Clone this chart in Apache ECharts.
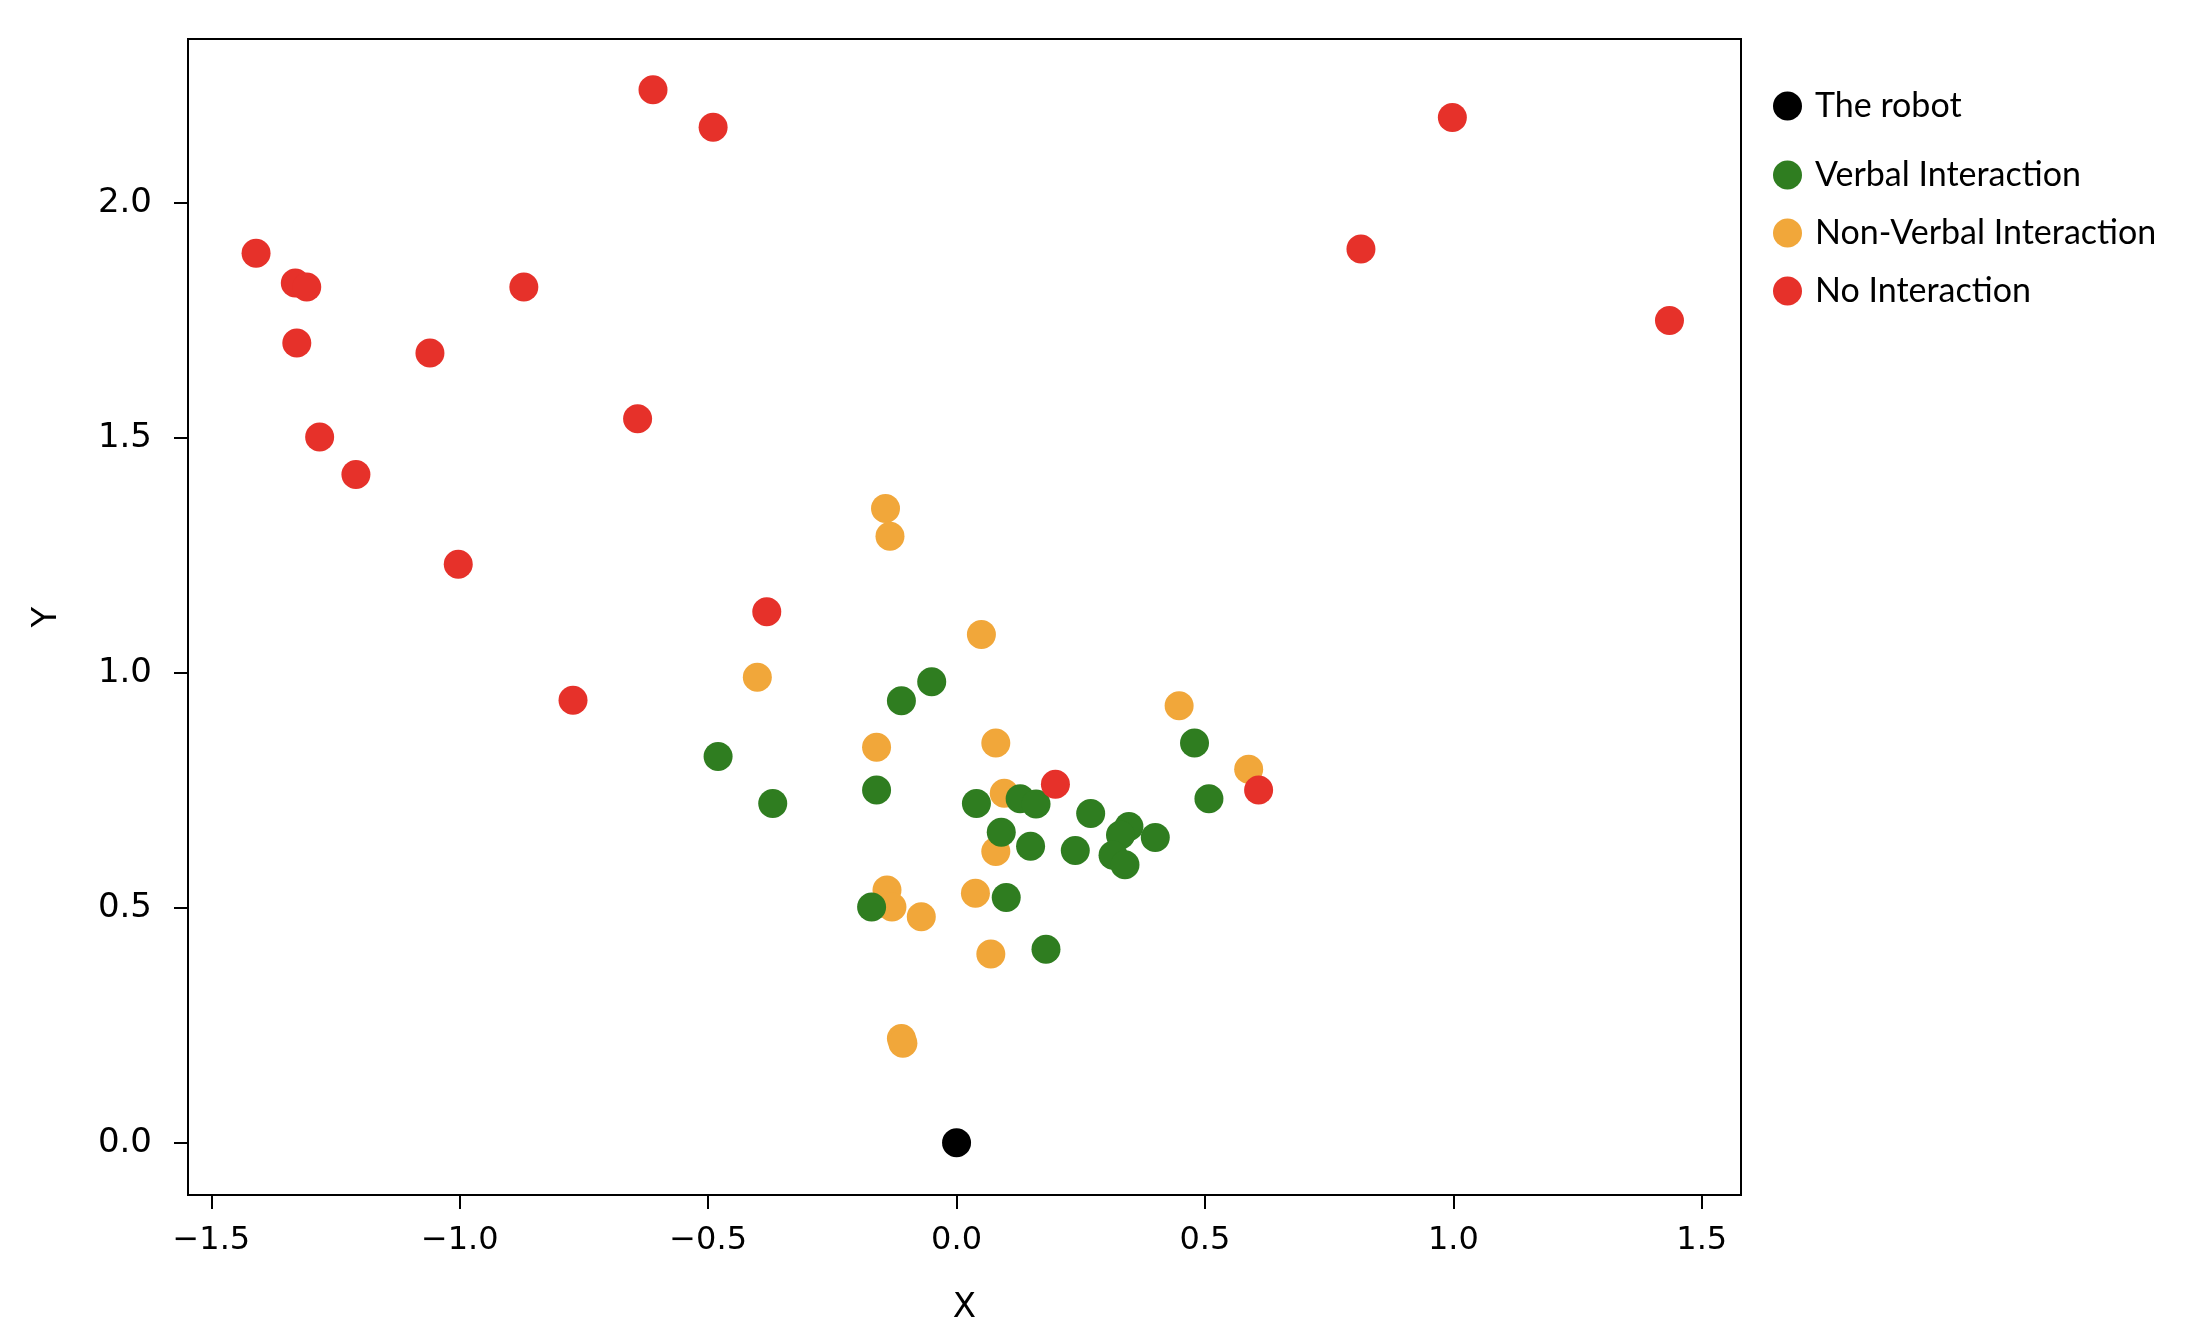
<!DOCTYPE html>
<html>
<head>
<meta charset="utf-8">
<script src="https://cdn.jsdelivr.net/npm/echarts@6/dist/echarts.min.js"></script>
<style>
  html, body { margin: 0; padding: 0; background: #fff; }
  #main { width: 2196px; height: 1340px; }
</style>
</head>
<body>
<div id="main"></div>
<script>
// legend names
var names = ['The robot', 'Verbal Interaction', 'Non-Verbal Interaction', 'No Interaction'];
var colors = ['#000000', '#2f7d20', '#f1a73a', '#e6312a'];

var xTicks = [-1.5, -1.0, -0.5, 0.0, 0.5, 1.0, 1.5];
var yTicks = [0.0, 0.5, 1.0, 1.5, 2.0];

// points [x, y]
var robot = [[0.0, 0.0]];

var verbal = [
  [-0.050, 0.981], [-0.111, 0.941], [0.479, 0.851], [-0.480, 0.822], [-0.161, 0.751],
  [0.508, 0.732], [-0.370, 0.722], [0.040, 0.722], [0.128, 0.732], [0.160, 0.721],
  [0.270, 0.701], [0.347, 0.673], [0.330, 0.655], [0.400, 0.650], [0.090, 0.661],
  [0.149, 0.631], [0.239, 0.622], [0.315, 0.612], [0.339, 0.592], [-0.171, 0.502],
  [0.100, 0.522], [0.180, 0.412]
];

var nonVerbal = [
  [-0.143, 1.350], [-0.134, 1.291], [0.050, 1.082], [-0.401, 0.991], [0.448, 0.930],
  [0.079, 0.851], [-0.161, 0.842], [0.588, 0.795], [0.096, 0.744], [0.079, 0.620],
  [-0.140, 0.538], [-0.130, 0.502], [-0.071, 0.481], [0.038, 0.531], [0.069, 0.402],
  [-0.111, 0.222], [-0.108, 0.212]
];

var noInteraction = [
  [-0.611, 2.241], [-0.490, 2.161], [0.998, 2.182], [-1.410, 1.893], [-1.331, 1.830],
  [-1.308, 1.821], [-0.871, 1.821], [0.814, 1.902], [1.435, 1.750], [-1.328, 1.702],
  [-1.060, 1.681], [-0.642, 1.541], [-1.282, 1.502], [-1.209, 1.422], [-1.003, 1.231],
  [-0.382, 1.130], [-0.772, 0.942], [0.199, 0.763], [0.608, 0.751]
];

function fmt(v) {
  return v.toFixed(1).replace('-', '\u2212');
}

var myChart = echarts.init(document.getElementById('main'));

var legendText = { fontFamily: 'Lato', fontSize: 34, color: '#000', padding: [0, 0, 0, 8] };

var option = {
  animation: false,
  backgroundColor: '#fff',
  grid: {
    left: 188,
    right: 455,
    top: 39,
    bottom: 145,
    show: true,
    borderColor: '#000',
    borderWidth: 2
  },
  legend: [
    {
      data: [names[0]],
      orient: 'vertical',
      left: 1768,
      top: 84,
      icon: 'circle',
      itemWidth: 29,
      itemHeight: 29,
      textStyle: legendText
    },
    {
      data: [names[1], names[2], names[3]],
      orient: 'vertical',
      left: 1768,
      top: 153,
      icon: 'circle',
      itemWidth: 29,
      itemHeight: 29,
      itemGap: 24,
      textStyle: legendText
    }
  ],
  xAxis: {
    type: 'value',
    min: -1.547,
    max: 1.579,
    name: 'X',
    nameLocation: 'middle',
    nameGap: 96,
    nameTextStyle: { fontFamily: 'DejaVu Sans', fontSize: 34, color: '#000' },
    splitLine: { show: false },
    axisLine: { show: false, onZero: false },
    axisTick: {
      show: true,
      inside: false,
      length: 14,
      customValues: xTicks,
      lineStyle: { color: '#000', width: 2 }
    },
    axisLabel: {
      customValues: xTicks,
      margin: 30,
      fontFamily: 'DejaVu Sans',
      fontSize: 32,
      color: '#000',
      formatter: fmt
    }
  },
  yAxis: {
    type: 'value',
    min: -0.111,
    max: 2.349,
    name: 'Y',
    nameLocation: 'middle',
    nameGap: 124,
    nameTextStyle: { fontFamily: 'DejaVu Sans', fontSize: 34, color: '#000' },
    splitLine: { show: false },
    axisLine: { show: false, onZero: false },
    axisTick: {
      show: true,
      inside: false,
      length: 14,
      customValues: yTicks,
      lineStyle: { color: '#000', width: 2 }
    },
    axisLabel: {
      customValues: yTicks,
      margin: 36,
      fontFamily: 'DejaVu Sans',
      fontSize: 34,
      color: '#000',
      formatter: fmt
    }
  },
  series: [
    {
      name: names[2],
      type: 'scatter',
      data: nonVerbal,
      symbolSize: 29,
      itemStyle: { color: colors[2], opacity: 1 },
      z: 2
    },
    {
      name: names[1],
      type: 'scatter',
      data: verbal,
      symbolSize: 29,
      itemStyle: { color: colors[1], opacity: 1 },
      z: 3
    },
    {
      name: names[3],
      type: 'scatter',
      data: noInteraction,
      symbolSize: 29,
      itemStyle: { color: colors[3], opacity: 1 },
      z: 4
    },
    {
      name: names[0],
      type: 'scatter',
      data: robot,
      symbolSize: 29,
      itemStyle: { color: colors[0], opacity: 1 },
      z: 5
    }
  ]
};

myChart.setOption(option);
</script>
</body>
</html>
